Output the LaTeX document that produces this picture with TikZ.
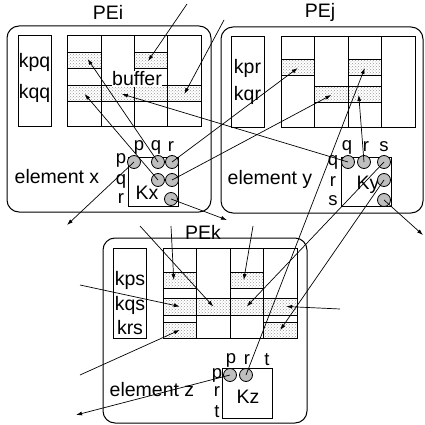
\documentclass[tikz,border=0pt]{standalone}
\usepackage{fontspec}
\setmainfont{Liberation Sans}
\usetikzlibrary{arrows.meta, patterns, positioning}

\begin{document}
\begin{tikzpicture}[x=1pt, y=-1pt,
    font=\fontsize{19.5}{20}\selectfont,
    pebox/.style={draw, line width=1pt, rounded corners=12pt, inner sep=0pt},
    keycol/.style={draw, line width=1pt, minimum width=33pt, minimum height=90pt, inner sep=0pt},
    buf/.style={draw, line width=1pt, minimum width=134pt, minimum height=90pt, inner sep=0pt},
    cell/.style={draw, line width=1pt, pattern=crosshatch dots, pattern color=gray!80, minimum width=33.5pt, minimum height=16pt, inner sep=0pt},
    kbox/.style={draw, line width=1pt, minimum width=50pt, minimum height=49pt, inner sep=0pt},
    elem/.style={circle, draw, line width=0.8pt, fill=gray!50, minimum size=13pt, inner sep=0pt},
    idx/.style={inner sep=0pt, font=\fontsize{18.5}{18.5}\selectfont},
    arr/.style={-{Latex[length=6pt, width=4pt]}, line width=0.7pt}]
    \useasboundingbox (0,0) rectangle (424,425);

    % PEi
    \node[pebox, minimum width=204pt, minimum height=186pt] (pei) at (109,119) {};
    \node (peilab) at (108,12) {PEi};
    \node[keycol] (keyi) at (34.5,81) {};
    \node (kpq) at (34.5,62) {kpq};
    \node (kqq) at (34.5,93) {kqq};
    \node[buf] (bufi) at (134.5,81) {};
    \foreach \c in {101.25,134.5,167.75} \draw[line width=1pt] (\c,36) -- (\c,126);
    \node[cell] (ia1) at (84.625,61) {};
    \node[cell] (ia3) at (151.125,61) {};
    \node[cell] (ib1) at (84.625,94) {};
    \node[cell] (ib2) at (117.875,94) {};
    \node[cell] (ib3) at (151.125,94) {};
    \node[cell] (ib4) at (184.375,94) {};
    \node[fill=white, inner sep=0.5pt] (bufilab) at (137,79) {buffer};
    \node[kbox] (kx) at (153,181.5) {};
    \node (kxlab) at (147,193) {Kx};
    \node[idx] (xtp) at (139,147) {p};
    \node[idx] (xtq) at (156,147) {q};
    \node[idx] (xtr) at (171,147) {r};
    \node[idx] (xlp) at (121,160) {p};
    \node[idx] (xlq) at (121,181) {q};
    \node[idx] (xlr) at (121,199) {r};
    \node[elem] (xpp) at (134,162) {};
    \node[elem] (xpq) at (158,162) {};
    \node[elem] (xpr) at (172,162) {};
    \node[elem] (xqq) at (158,180) {};
    \node[elem] (xqr) at (172,180) {};
    \node[elem] (xrr) at (171,199) {};
    \node (elx) at (57,177) {element x};

    % PEj
    \node[pebox, minimum width=202pt, minimum height=186pt] (pej) at (322,120) {};
    \node (pejlab) at (320,12) {PEj};
    \node[keycol] (keyj) at (247.5,82) {};
    \node (kpr) at (247.5,68) {kpr};
    \node (kqr) at (247.5,95) {kqr};
    \node[buf] (bufj) at (348,82) {};
    \foreach \c in {314.5,348,381.5} \draw[line width=1pt] (\c,37) -- (\c,127);
    \node[cell] (ja1) at (297.75,68) {};
    \node[cell] (ja3) at (364.75,68) {};
    \node[cell] (jb2) at (331.25,95) {};
    \node[cell] (jb3) at (364.75,95) {};
    \node[kbox] (ky) at (366,182) {};
    \node (kylab) at (368,185) {Ky};
    \node[idx] (ytq) at (347,147) {q};
    \node[idx] (ytr) at (366,147) {r};
    \node[idx] (yts) at (384,147) {s};
    \node[idx] (ylq) at (333,162) {q};
    \node[idx] (ylr) at (333,182) {r};
    \node[idx] (yls) at (333,201) {s};
    \node[elem] (yqq) at (348,162) {};
    \node[elem] (yqr) at (364,162) {};
    \node[elem] (yqs) at (384,162) {};
    \node[elem] (yrs) at (384,180) {};
    \node[elem] (yss) at (384,200) {};
    \node (ely) at (270,179) {element y};

    % PEk
    \node[pebox, minimum width=204pt, minimum height=185pt] (pek) at (205,330.5) {};
    \node (peklab) at (203,232) {PEk};
    \node[keycol] (keyk) at (130,293) {};
    \node (kps) at (130,280) {kps};
    \node (kqs) at (130,305) {kqs};
    \node (krs) at (130,328) {krs};
    \node[buf] (bufk) at (230,293) {};
    \foreach \c in {196.5,230,263.5} \draw[line width=1pt] (\c,248) -- (\c,338);
    \node[cell] (ka1) at (179.75,280) {};
    \node[cell] (ka3) at (246.75,280) {};
    \node[cell, minimum height=17pt] (kb1) at (179.75,306.5) {};
    \node[cell, minimum height=17pt] (kb2) at (213.25,306.5) {};
    \node[cell, minimum height=17pt] (kb3) at (246.75,306.5) {};
    \node[cell, minimum height=17pt] (kb4) at (280.25,306.5) {};
    \node[cell] (kc1) at (179.75,330) {};
    \node[cell] (kc4) at (280.25,330) {};
    \node[kbox, minimum height=50pt] (kz) at (247.5,393) {};
    \node (kzlab) at (248,397) {Kz};
    \node[idx] (ztp) at (231,360) {p};
    \node[idx] (ztr) at (247,360) {r};
    \node[idx] (ztt) at (267,360) {t};
    \node[idx] (zlp) at (217,375) {p};
    \node[idx] (zlr) at (217,392) {r};
    \node[idx] (zlt) at (217,412) {t};
    \node[elem] (zpp) at (230,375) {};
    \node[elem] (zpr) at (246,375) {};
    \node (elz) at (152,390) {element z};

    % loose ends
    \coordinate (in1) at (187,4);
    \coordinate (in2) at (224,20);
    \coordinate (in3) at (140,226);
    \coordinate (in4) at (171,226);
    \coordinate (in5) at (253,226);
    \coordinate (in6) at (80,285);
    \coordinate (in7) at (340,309);
    \coordinate (in8) at (80,375);
    \coordinate (out1) at (67,225);
    \coordinate (out2) at (227,220);
    \coordinate (out3) at (423,235);
    \coordinate (out4) at (76,415);

    % data movement
    \draw[arr] (in1) -- ([xshift=-3pt]ia3.center);
    \draw[arr] (in2) -- (ib4.center);
    \draw[arr] (yqq.center) -- ([xshift=4pt]ib2.center);
    \draw[arr] (xpq.center) -- ([xshift=3pt, yshift=2pt]ia1.center);
    \draw[arr] (xqq.center) -- (ib1.center);
    \draw[arr] (xpp.center) -- (out1);
    \draw[arr] (xpr.center) -- (ja1.center);
    \draw[arr] (xqr.center) -- (jb2.center);
    \draw[arr] (xrr.center) -- (out2);
    \draw[arr] (zpr.center) -- (ja3.center);
    \draw[arr] (yqr.center) -- ([xshift=-6pt]jb3.center);
    \draw[arr] (yqs.center) -- (kb3.center);
    \draw[arr] (yrs.center) -- (kc4.center);
    \draw[arr] (yss.center) -- (out3);
    \draw[arr] (in3) -- (kb2.center);
    \draw[arr] (in4) -- ([xshift=-6pt]ka1.center);
    \draw[arr] (in5) -- ([xshift=-3pt]ka3.center);
    \draw[arr] (in6) -- (kb1.center);
    \draw[arr] (in7) -- ([xshift=6pt]kb4.center);
    \draw[arr] (in8) -- (kc1.center);
    \draw[arr] (zpp.center) -- (out4);
\end{tikzpicture}
\end{document}
